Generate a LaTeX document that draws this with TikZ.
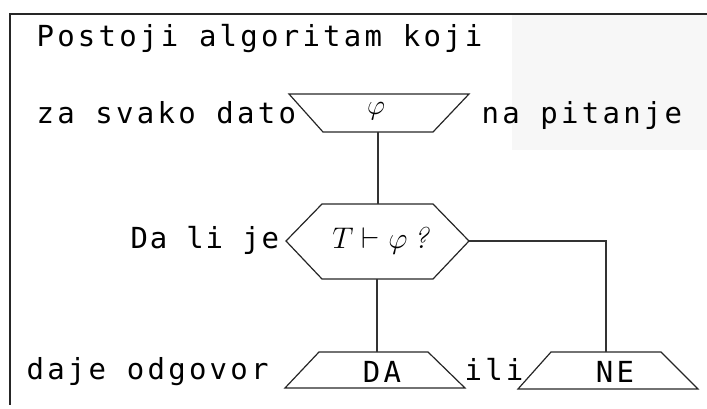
\documentclass[tikz,border=0pt]{standalone}
\usepackage{fontspec}
\newfontfamily\monoA[LetterSpace=11.2]{DejaVu Sans Mono}
\newfontfamily\monoB[LetterSpace=6]{DejaVu Sans Mono}
\begin{document}
\begin{tikzpicture}[x=1pt,y=-1pt,line width=1.2pt,
  txt/.style={inner sep=0pt,anchor=base west,font=\fontsize{29}{32}\monoA},
  txtB/.style={inner sep=0pt,anchor=base west,font=\fontsize{29}{32}\monoB},
  lab/.style={inner sep=0pt,anchor=base,font=\fontsize{29}{32}\monoA},
  shp/.style={draw=black!85,line join=miter},
  conn/.style={draw=black!80,line width=1.1pt}]
\useasboundingbox (0,0) rectangle (707,409);
\fill[black!3] (512,15) rectangle (707,150);
\draw[black!85] (707,14) -- (10,14) -- (10,405);

% texts
\node[txt] (t1) at (36,47) {Postoji algoritam koji};
\node[txt] (t2) at (36,124) {za svako dato};
\node[txt] (t3) at (481,124) {na pitanje};
\node[txtB] (t4) at (130,248) {Da li je};
\node[txt] (t5) at (26,379) {daje odgovor};
\node[txt] (t6) at (464,380) {ili};

% input trapezoid phi
\draw[shp] (289,94) -- (469,94) -- (433,132) -- (323,132) -- cycle;
\node[inner sep=0pt,font=\fontsize{20.74}{24}\selectfont] (phi) at (376,111) {\scalebox{1.35}{$\varphi$}};
\coordinate (phiB) at (378,132);

% hexagon
\draw[shp] (286,241) -- (322,204) -- (433,204) -- (469,241) -- (433,279) -- (322,279) -- cycle;
\node[inner sep=0pt,anchor=base,font=\fontsize{24.88}{28}\selectfont] (q) at (381,248) {\scalebox{1.2}{$T\mathrel{\vdash}\varphi$\hspace{5pt}\textit{?}}};
\coordinate (hexT) at (378,204);
\coordinate (hexB) at (377,279);
\coordinate (hexR) at (469,241);
\coordinate (corner) at (606,241);

% output trapezoids
\draw[shp] (319,352) -- (428,352) -- (465,388) -- (285,388) -- cycle;
\node[lab] (da) at (382,382) {DA};
\coordinate (daT) at (377,352);
\draw[shp] (551,352) -- (661,352) -- (698,389) -- (518,389) -- cycle;
\node[lab] (ne) at (615,382) {NE};
\coordinate (neT) at (606,352);

% connectors
\draw[conn] (phiB) -- (hexT);
\draw[conn] (hexB) -- (daT);
\draw[conn] (hexR) -- (corner) -- (neT);
\end{tikzpicture}
\end{document}
